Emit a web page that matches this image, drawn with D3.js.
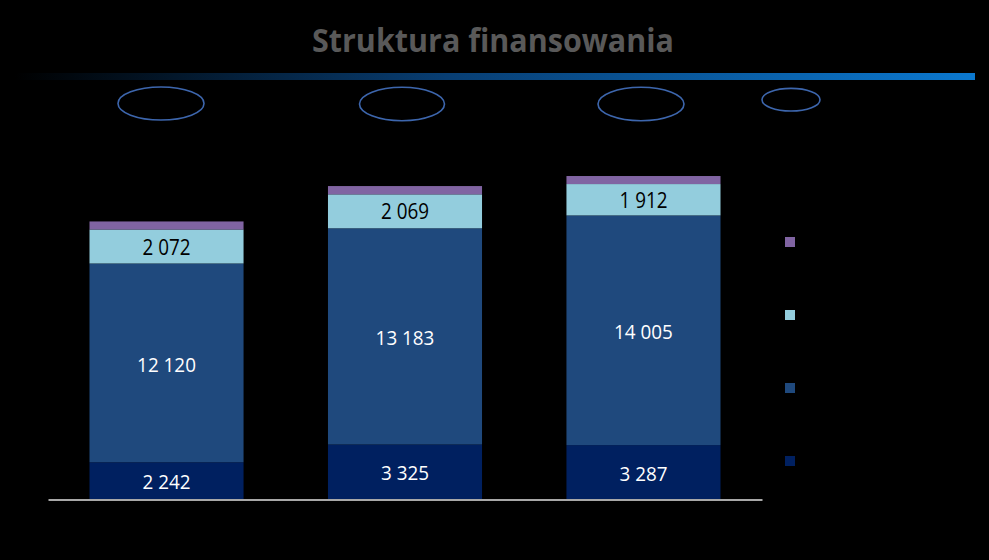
<!DOCTYPE html>
<html>
<head>
<meta charset="utf-8">
<script src="https://cdn.jsdelivr.net/npm/d3@7"></script>
<style>
html,body{margin:0;padding:0;background:#000;}
svg{display:block;}
</style>
</head>
<body>
<svg id="chart" width="989" height="560"></svg>
<script>
// ---- data ----
const title = "Struktura finansowania";
const categories = ["c1", "c2", "c3"];            // category labels are not visible in the reference
const seriesKeys = ["s1", "s2", "s3", "s4"];       // bottom -> top
const s1 = [2242, 3325, 3287];
const s2 = [12120, 13183, 14005];
const s3 = [2072, 2069, 1912];
const s4 = [490, 505, 490];
const showLabel = [true, true, true, false];

// ---- styles ----
const colors = ["#002060", "#1F497D", "#93CDDD", "#8064A2"];
const labelColors = ["#ffffff", "#ffffff", "#000000", "#000000"];

const svg = d3.select("#chart");
svg.append("rect").attr("width", 989).attr("height", 560).attr("fill", "#000");

const defs = svg.append("defs");
const grad = defs.append("linearGradient").attr("id", "lineGrad")
  .attr("x1", "0%").attr("x2", "100%").attr("y1", "0%").attr("y2", "0%");
grad.append("stop").attr("offset", "0%").attr("stop-color", "#000000");
grad.append("stop").attr("offset", "45%").attr("stop-color", "#083e73");
grad.append("stop").attr("offset", "100%").attr("stop-color", "#0b78cf");

// title
svg.append("text")
  .attr("x", 493).attr("y", 52)
  .attr("text-anchor", "middle")
  .attr("font-family", "'Open Sans', sans-serif")
  .attr("font-weight", "bold")
  .attr("font-size", 32)
  .attr("fill", "#595959")
  .attr("textLength", 362)
  .attr("lengthAdjust", "spacingAndGlyphs")
  .text(title);

// gradient rule
svg.append("rect").attr("x", 15).attr("y", 73).attr("width", 960).attr("height", 7)
  .attr("fill", "url(#lineGrad)");

// decorative ellipses
const ellipses = [
  {cx: 161, cy: 103.5, rx: 43, ry: 16.5},
  {cx: 402, cy: 104, rx: 42.5, ry: 16.7},
  {cx: 641, cy: 104, rx: 43, ry: 16.7},
  {cx: 791, cy: 99.7, rx: 29, ry: 11.3}
];
svg.selectAll("ellipse.deco").data(ellipses).enter().append("ellipse")
  .attr("class", "deco")
  .attr("cx", d => d.cx).attr("cy", d => d.cy)
  .attr("rx", d => d.rx).attr("ry", d => d.ry)
  .attr("fill", "none").attr("stroke", "#3d66ad").attr("stroke-width", 1.6);

// scales
const x = d3.scaleBand().domain(categories).range([48, 762])
  .paddingInner(0.354).paddingOuter(0.174);
const y = d3.scaleLinear().domain([0, 20000]).range([499, 171]);

const table = categories.map((c, i) => ({cat: c, s1: s1[i], s2: s2[i], s3: s3[i], s4: s4[i]}));
const stacked = d3.stack().keys(seriesKeys)(table);

const g = svg.append("g");
stacked.forEach((layer, li) => {
  g.selectAll(null).data(layer).enter().append("rect")
    .attr("x", d => x(d.data.cat))
    .attr("width", x.bandwidth())
    .attr("y", d => y(d[1]))
    .attr("height", d => y(d[0]) - y(d[1]))
    .attr("fill", colors[li]);
});

// labels
const fmt = v => d3.format(",")(v).replace(/,/g, " ");
function estWidth(s, k) {
  let w = 0;
  for (const ch of s) w += (ch === " " ? 0.226 : 0.507);
  return w * k;
}
stacked.forEach((layer, li) => {
  if (!showLabel[li]) return;
  const white = labelColors[li] === "#ffffff";
  g.selectAll(null).data(layer).enter().append("text")
    .attr("x", d => x(d.data.cat) + x.bandwidth() / 2)
    .attr("y", d => (y(d[0]) + y(d[1])) / 2 + (white ? 1.5 : 0.5))
    .attr("dy", "0.36em")
    .attr("text-anchor", "middle")
    .attr("font-family", "'Open Sans', sans-serif")
    .attr("font-size", white ? 20 : 21)
    .attr("fill", labelColors[li])
    .attr("textLength", d => estWidth(fmt(d.data[seriesKeys[li]]), 21.3))
    .attr("lengthAdjust", "spacingAndGlyphs")
    .text(d => fmt(d.data[seriesKeys[li]]));
});

// axis baseline
const axis = svg.append("g").attr("transform", "translate(0,499.5)")
  .call(d3.axisBottom(x).tickSize(0).tickSizeOuter(0).tickFormat(""));
axis.select(".domain").attr("stroke", "#e0e0e0").attr("stroke-width", 1.6);
axis.selectAll(".tick").remove();

// legend squares (legend labels not visible in reference)
const legendY = d3.scalePoint().domain(seriesKeys.slice().reverse()).range([242, 461]);
svg.selectAll("rect.leg").data(seriesKeys).enter().append("rect")
  .attr("class", "leg")
  .attr("x", 785).attr("width", 10).attr("height", 10)
  .attr("y", d => legendY(d) - 5)
  .attr("fill", (d, i) => colors[i]);
</script>
</body>
</html>
